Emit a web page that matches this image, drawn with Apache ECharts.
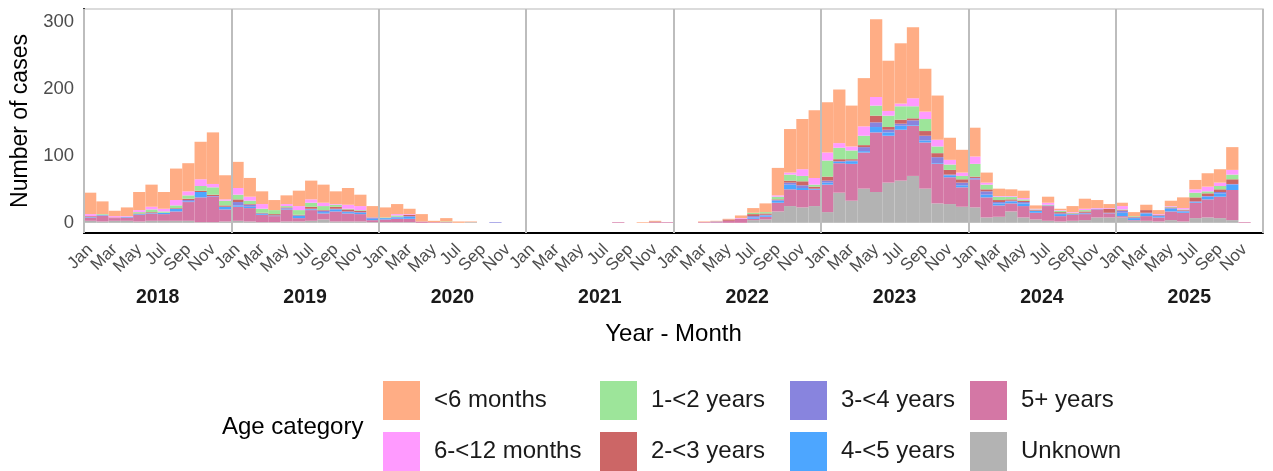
<!DOCTYPE html>
<html>
<head>
<meta charset="utf-8">
<script src="https://cdn.jsdelivr.net/npm/echarts@6/dist/echarts.min.js"></script>
<style>
html,body{margin:0;padding:0;background:#fff;}
#chart{width:1273px;height:471px;}
</style>
</head>
<body>
<div id="chart"></div>
<script>
const years = ['2018','2019','2020','2021','2022','2023','2024','2025'];
const months = ['Jan','Feb','Mar','Apr','May','Jun','Jul','Aug','Sep','Oct','Nov','Dec'];
const shownMonths = ['Jan','Mar','May','Jul','Sep','Nov'];
const yTicks = [0, 100, 200, 300];

// Monthly case counts per age category, Jan 2018 .. Dec 2025 (12 values per year)
const unknown = [
  3,2,3,3,2,3,3,3,3,1,1,2,
  3,2,1,1,2,2,3,5,2,2,2,1,
  1,1,1,0,0,0,0,1,0,0,0,0,
  0,0,0,0,0,0,0,0,0,0,0,0,
  0,0,0,0,0,0,4,5,17,25,23,25,
  16,45,33,51,46,60,63,70,51,29,28,24,
  23,8,9,17,8,5,3,2,3,4,8,8,
  8,3,3,2,4,2,7,8,7,4,0,0];
const plus5 = [
  5,9,4,5,10,11,10,14,28,37,38,18,
  21,20,11,9,18,5,16,9,15,12,11,3,
  4,5,5,2,1,1,0,0,0,0,0,0,
  0,0,0,0,0,0,0,1,0,0,1,1,
  0,0,1,1,3,6,2,4,13,25,26,24,
  41,44,55,54,89,70,76,75,69,59,40,29,
  42,30,17,12,17,10,22,8,9,9,12,6,
  2,1,7,6,13,13,23,27,32,45,1,0];
const y4to5 = [
  1,1,0,1,1,1,2,4,1,8,0,4,
  2,2,2,1,1,4,1,2,3,2,2,2,
  2,2,3,0,0,0,0,0,0,0,0,0,
  0,0,0,0,0,0,0,0,0,0,0,0,
  0,0,0,0,0,0,2,2,3,7,3,1,
  3,2,4,2,8,5,6,1,3,1,3,3,
  1,4,3,3,4,3,0,3,1,1,0,0,
  5,3,4,2,4,2,1,4,5,8,0,0];
const y3to4 = [
  0,0,0,0,0,0,0,0,2,0,1,0,
  5,3,0,0,1,0,1,2,1,1,1,2,
  0,1,1,0,0,0,0,0,0,1,0,0,
  0,0,0,0,0,0,0,0,0,0,0,0,
  0,0,0,1,0,0,2,1,1,3,4,1,
  3,1,1,6,7,4,3,7,7,9,1,4,
  1,5,2,1,2,0,1,1,0,1,1,1,
  3,1,1,1,1,1,1,1,2,1,0,0];
const y2to3 = [
  1,0,1,0,1,1,0,1,2,2,2,2,
  4,1,1,2,1,1,3,1,3,3,2,0,
  0,0,2,0,0,0,0,0,0,0,0,0,
  0,0,0,0,0,0,0,0,0,0,1,0,
  0,0,0,0,2,0,3,2,1,3,6,3,
  6,3,2,3,10,4,6,3,7,6,7,5,
  2,3,3,2,2,1,0,2,1,2,0,6,
  1,1,4,1,1,1,6,4,4,7,0,0];
const y1to2 = [
  0,1,0,0,2,4,2,4,5,7,11,7,
  7,5,6,6,2,7,6,6,3,1,1,0,
  1,2,0,0,0,1,0,0,0,0,0,0,
  0,0,0,0,0,0,0,0,0,0,0,0,
  0,0,0,0,0,0,2,2,4,9,8,3,
  24,17,13,14,15,17,20,18,18,10,8,5,
  19,7,5,4,2,1,1,2,1,2,0,0,
  1,1,0,0,1,1,7,3,5,7,0,0];
const m6to12 = [
  3,0,2,1,3,4,4,8,6,10,5,2,
  10,6,7,0,3,6,5,5,1,6,6,0,
  0,2,1,0,0,0,0,0,0,0,0,0,
  0,0,0,0,0,0,0,0,0,0,0,0,
  0,0,0,0,0,1,0,0,2,3,10,10,
  12,7,6,14,13,7,4,12,11,10,7,5,
  11,3,1,1,2,1,3,1,1,2,1,1,
  5,0,0,1,1,2,5,7,5,7,0,0];
const lt6 = [
  32,19,8,13,27,33,25,47,42,56,77,36,
  39,28,19,15,13,23,28,27,19,25,17,17,
  15,15,8,11,2,5,2,1,0,0,0,0,
  0,0,0,0,0,0,0,0,0,1,1,0,
  0,0,1,1,1,4,7,13,41,65,75,101,
  75,80,61,72,116,75,90,106,64,66,33,34,
  43,15,11,10,11,5,9,2,9,15,12,6,
  5,6,8,6,8,16,14,20,20,34,0,0];

// Legend layout: columns of the ggplot-style legend (2 rows)
const legendColumns = [
  ['<6 months', '6-<12 months'],
  ['1-<2 years', '2-<3 years'],
  ['3-<4 years', '4-<5 years'],
  ['5+ years', 'Unknown']
];

const monthKeys = [];
const monthTickLabels = [];
years.forEach(y => months.forEach(m => {
  monthKeys.push(y + '-' + m);
  monthTickLabels.push(shownMonths.indexOf(m) >= 0 ? m : '');
}));
monthTickLabels.push('');

const colors = {
  'Unknown': '#b3b3b3',
  '5+ years': '#d477a5',
  '4-<5 years': '#4da6ff',
  '3-<4 years': '#8884de',
  '2-<3 years': '#cc6666',
  '1-<2 years': '#9de59a',
  '6-<12 months': '#ff9aff',
  '<6 months': '#ffad85'
};
const stackOrder = [
  ['Unknown', unknown],
  ['5+ years', plus5],
  ['4-<5 years', y4to5],
  ['3-<4 years', y3to4],
  ['2-<3 years', y2to3],
  ['1-<2 years', y1to2],
  ['6-<12 months', m6to12],
  ['<6 months', lt6]
];

const FONT = "'Liberation Sans', Arial, sans-serif";
const chart = echarts.init(document.getElementById('chart'), null, {renderer: 'canvas'});

const legendLefts = [383, 600, 790, 970];
const legendTops = [381, 432];
const legends = [];
legendColumns.forEach((col, ci) => col.forEach((name, ri) => {
  legends.push({
    orient: 'horizontal', left: legendLefts[ci], top: legendTops[ri], padding: 0,
    itemWidth: 37, itemHeight: 39, icon: 'rect', selectedMode: false,
    data: [name],
    textStyle: {fontFamily: FONT, fontSize: 24, color: '#1a1a1a', padding: [0,0,0,9]}
  });
}));

chart.setOption({
  animation: false,
  backgroundColor: '#ffffff',
  textStyle: {fontFamily: FONT},
  grid: {left: 84, right: 10, top: 9, bottom: 238, show: true, borderColor: '#d0d0d0', borderWidth: 1.5, containLabel: false},
  xAxis: [
    {
      type: 'category', data: monthKeys, boundaryGap: true, gridIndex: 0,
      axisLine: {show: true, onZero: false, lineStyle: {color: '#000', width: 2}},
      axisTick: {show: false}, axisLabel: {show: false}, splitLine: {show: false}, z: 5
    },
    {
      type: 'category', data: monthTickLabels, boundaryGap: false, gridIndex: 0, position: 'bottom',
      axisLine: {show: false, onZero: false}, axisTick: {show: false}, splitLine: {show: false},
      axisLabel: {show: true, interval: 0, rotate: 45, margin: 8, verticalAlign: 'top', align: 'right',
                  fontSize: 17, color: '#4d4d4d', fontFamily: FONT}
    },
    {
      type: 'category', data: years, boundaryGap: true, gridIndex: 0, position: 'bottom',
      axisLine: {show: false, onZero: false}, axisTick: {show: false},
      splitLine: {show: true, interval: 0, lineStyle: {color: '#bdbdbd', width: 2}},
      axisLabel: {show: true, interval: 0, margin: 55, fontSize: 19.5, fontWeight: 'bold', color: '#1a1a1a', fontFamily: FONT},
      name: 'Year - Month', nameLocation: 'middle', nameGap: 89,
      nameTextStyle: {fontSize: 24, color: '#000', fontFamily: FONT},
      z: 10
    }
  ],
  yAxis: {
    type: 'value', min: -15.2, max: 319.2,
    axisLine: {show: true, onZero: false, lineStyle: {color: '#000', width: 2}},
    axisTick: {show: false}, splitLine: {show: false},
    axisLabel: {
      margin: 10, fontSize: 18.5, color: '#4d4d4d', fontFamily: FONT,
      formatter: v => (yTicks.indexOf(Math.round(v * 1000) / 1000) >= 0 ? String(v) : ''),
      showMinLabel: false, showMaxLabel: false
    },
    name: 'Number of cases', nameLocation: 'middle', nameGap: 40,
    nameTextStyle: {fontSize: 23, color: '#000', fontFamily: FONT},
    z: 5
  },
  legend: legends,
  graphic: [{
    type: 'text', left: 222, top: 415,
    style: {text: 'Age category', font: '24px ' + FONT, fill: '#000'}
  }],
  series: stackOrder.map(([name, vals]) => ({
    name: name, type: 'bar', stack: 'cases', xAxisIndex: 0,
    data: vals, barCategoryGap: '0%', barGap: '0%',
    itemStyle: {color: colors[name]},
    emphasis: {disabled: true}
  }))
});
</script>
</body>
</html>
